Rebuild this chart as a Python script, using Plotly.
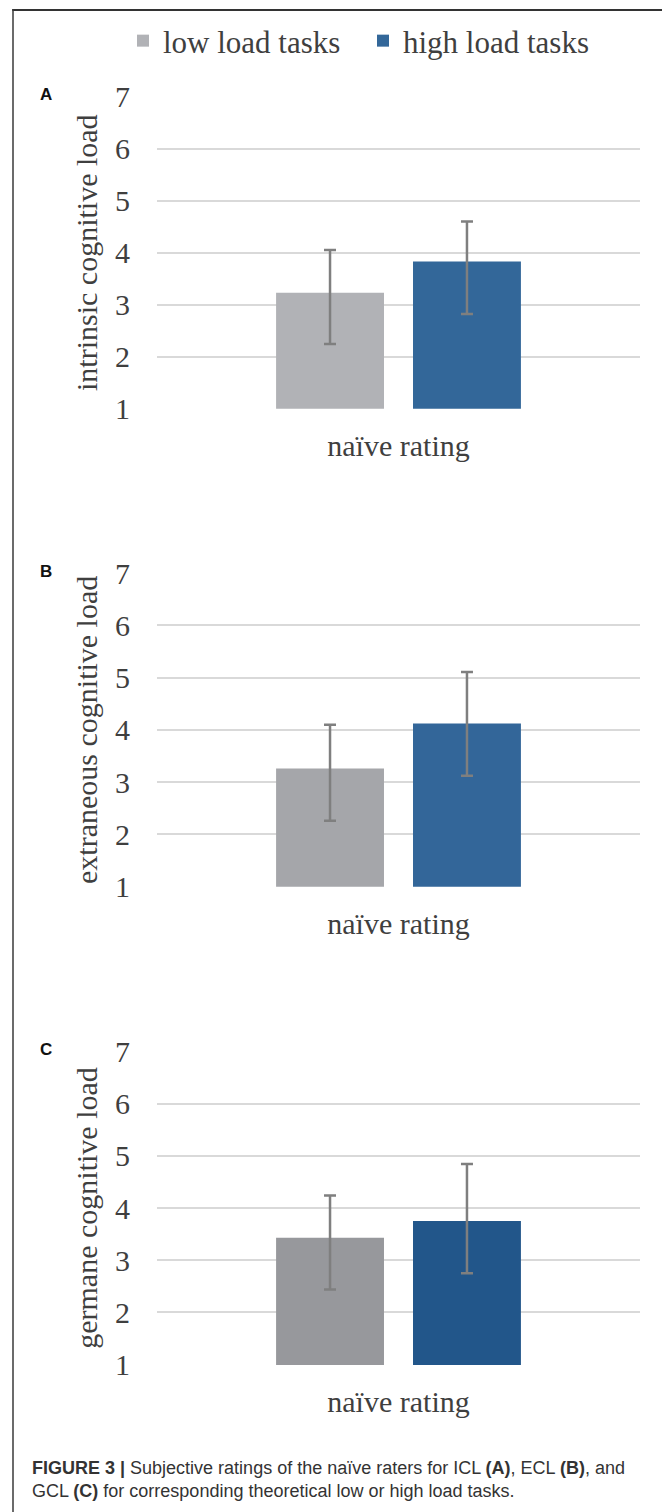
import plotly.graph_objects as go

# Page has an 8px body margin, so the figure is drawn 8px smaller and all
# positions below are given in figure pixels (page pixel - 8).
W, H = 662, 1504

categories = ["naïve rating"]
series_names = ["low load tasks", "high load tasks"]
panel_letters = ["A", "B", "C"]
y_titles = ["intrinsic cognitive load", "extraneous cognitive load", "germane cognitive load"]

# mean values per panel: [low, high]
icl_means = [3.23, 3.83]
ecl_means = [3.26, 4.12]
gcl_means = [3.43, 3.75]
# error bar extents (plus / minus)
icl_err_plus = [0.82, 0.77]
icl_err_minus = [0.99, 1.01]
ecl_err_plus = [0.84, 0.99]
ecl_err_minus = [1.00, 1.00]
gcl_err_plus = [0.81, 1.09]
gcl_err_minus = [0.99, 1.00]

y_ticks = [1, 2, 3, 4, 5, 6, 7]

colors = [
    ["#b1b2b6", "#336799"],
    ["#a5a6aa", "#336699"],
    ["#97989c", "#22568a"],
]

means = [icl_means, ecl_means, gcl_means]
eplus = [icl_err_plus, ecl_err_plus, gcl_err_plus]
eminus = [icl_err_minus, ecl_err_minus, gcl_err_minus]

SERIF = "Liberation Serif, Times New Roman, serif"
SANS = "Liberation Sans, Arial, sans-serif"
TXT = "#3f3f3f"

x_left, x_right = 149, 632
panel_px = [(88.7, 400.7), (565.0, 878.7), (1043.0, 1357.0)]

fig = go.Figure()
layout = dict(
    template="none",
    width=W, height=H, autosize=False,
    margin=dict(l=0, r=0, t=0, b=0, pad=0, autoexpand=False),
    paper_bgcolor="white", plot_bgcolor="white",
    barmode="group", bargap=0.433, bargroupgap=0.212,
    showlegend=True,
    legend=dict(orientation="h", xref="paper", yref="paper",
                x=115 / W, xanchor="left", y=1 - 6 / H, yanchor="top",
                font=dict(family=SERIF, size=31, color=TXT),
                bgcolor="rgba(0,0,0,0)", borderwidth=0, entrywidth=195, itemclick=False),
)

annotations = []
for p in range(3):
    xa = "x" if p == 0 else f"x{p+1}"
    ya = "y" if p == 0 else f"y{p+1}"
    for s in range(2):
        fig.add_trace(go.Bar(
            x=categories, y=[means[p][s]], name=series_names[s],
            marker=dict(color=colors[p][s], line=dict(width=0)),
            error_y=dict(type="data", symmetric=False, array=[eplus[p][s]], arrayminus=[eminus[p][s]],
                         color="#7f7f7f", thickness=2.5, width=6),
            xaxis=xa, yaxis=ya, legendgroup=series_names[s], showlegend=(p == 0),
            offsetgroup=str(s), hoverinfo="skip",
        ))
    top, bot = panel_px[p]
    dom = [1 - bot / H, 1 - top / H]
    xkey = "xaxis" if p == 0 else f"xaxis{p+1}"
    ykey = "yaxis" if p == 0 else f"yaxis{p+1}"
    layout[xkey] = dict(domain=[x_left / W, x_right / W], anchor=ya, automargin=False,
                        showgrid=False, showline=False, zeroline=False,
                        ticks="", ticklabelstandoff=16,
                        tickfont=dict(family=SERIF, size=30, color=TXT), fixedrange=True)
    layout[ykey] = dict(domain=dom, anchor=xa, range=[0.995, 7.005], tickvals=y_ticks,
                        automargin=False,
                        showgrid=True, gridcolor="#d9d9d9", gridwidth=2,
                        showline=False, zeroline=False, ticks="", ticklabelstandoff=26,
                        tickfont=dict(family=SERIF, size=30, color=TXT),
                        title=dict(text=y_titles[p], font=dict(family=SERIF, size=30, color=TXT), standoff=8),
                        fixedrange=True)
    annotations.append(dict(text=f"<b>{panel_letters[p]}</b>", xref="paper", yref="paper",
                            x=38 / W, y=1 - (top - 2) / H, xanchor="center", yanchor="middle",
                            showarrow=False, font=dict(family=SANS, size=17, color="#111111")))

annotations.append(dict(
    text="<b>FIGURE 3 |</b> Subjective ratings of the naïve raters for ICL <b>(A)</b>, ECL <b>(B)</b>, and<br>"
         "GCL <b>(C)</b> for corresponding theoretical low or high load tasks.",
    xref="paper", yref="paper", x=22 / W, y=1 - 1448 / H, xanchor="left", yanchor="top", align="left",
    showarrow=False, font=dict(family=SANS, size=18, color="#333333")))

layout["annotations"] = annotations
# figure frame: top edge (thin filled band) and left edge
layout["shapes"] = [
    dict(type="rect", xref="paper", yref="paper", x0=4.25 / W, x1=1, y0=1 - 3 / H, y1=1 - 1 / H,
         line=dict(width=0), fillcolor="#333333", layer="above"),
    dict(type="line", xref="paper", yref="paper", x0=5 / W, x1=5 / W, y0=0, y1=1 - 1 / H,
         line=dict(color="#3a3a3a", width=1.5), layer="above"),
]
fig.update_layout(**layout)
fig.write_html("out.html", config={"displayModeBar": False})
